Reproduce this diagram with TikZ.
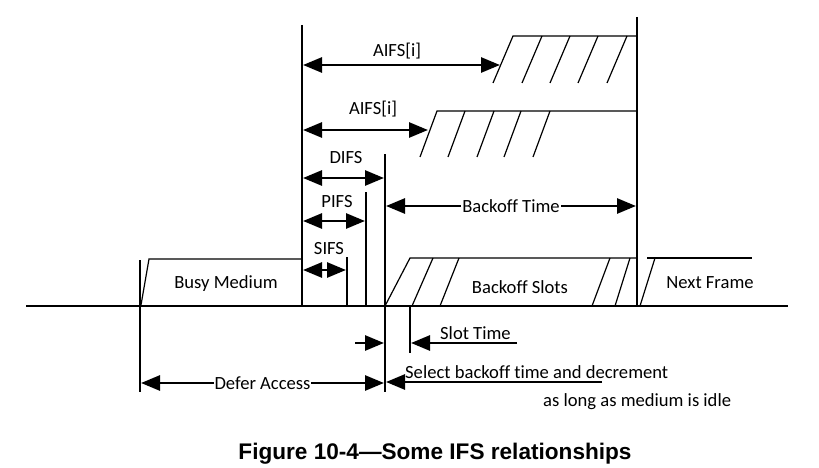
\documentclass[tikz,border=0pt]{standalone}
\usepackage{fontspec}
\setmainfont{Carlito}[Ligatures=NoCommon]
\newfontfamily\capfont{Liberation Sans}
\usetikzlibrary{arrows.meta}

\begin{document}
\begin{tikzpicture}[x=1pt,y=-1pt,
      vline/.style={line width=2.8pt},
      fine/.style={line width=1.2pt},
      dim/.style={line width=2.7pt,{Triangle[length=19pt,width=15pt]}-{Triangle[length=19pt,width=15pt]}},
      tip/.style={line width=2.7pt,-{Triangle[length=19pt,width=15pt]}},
      lbl/.style={font=\fontsize{18.6}{20}\selectfont,inner sep=0pt},
      cut/.style={lbl,fill=white,inner sep=1pt}]
   \useasboundingbox (0,0) rectangle (819,468);

   % medium line and time marks
   \coordinate (ml) at (26,306);
   \coordinate (mr) at (788,306);
   \coordinate (busy top) at (140,260);
   \coordinate (busy bot) at (140,392);
   \coordinate (idle top) at (302,25);
   \coordinate (idle bot) at (302,306);
   \coordinate (end top) at (637,17);
   \coordinate (end bot) at (637,306);
   \coordinate (sifs top) at (347,257);
   \coordinate (sifs bot) at (347,306);
   \coordinate (pifs top) at (366,192);
   \coordinate (pifs bot) at (366,306);
   \coordinate (difs top) at (385,154);
   \coordinate (difs bot) at (385,392);
   \coordinate (slot top) at (410,306);
   \coordinate (slot bot) at (410,353);

   % arrow ends
   \coordinate (aifs1 l) at (303,65);
   \coordinate (aifs1 r) at (500,65);
   \coordinate (aifs2 l) at (303,130);
   \coordinate (aifs2 r) at (428,130);
   \coordinate (difs l) at (303,178);
   \coordinate (difs r) at (384,178);
   \coordinate (pifs l) at (303,221);
   \coordinate (pifs r) at (365,221);
   \coordinate (sifs l) at (303,270);
   \coordinate (sifs r) at (346,270);
   \coordinate (bt l) at (386,206);
   \coordinate (bt r) at (636,206);
   \coordinate (defer l) at (141,383);
   \coordinate (defer r) at (384,383);
   \coordinate (st tail) at (517,343);
   \coordinate (st tip) at (411,343);
   \coordinate (in tail) at (355,343);
   \coordinate (in tip) at (384,343);
   \coordinate (sel tail) at (602,382);
   \coordinate (sel tip) at (386,382);

   % frames
   \draw[fine] (141,305) -- (149,259) -- (302,259);
   \draw[fine] (493,83) -- (513,36) -- (637,36);
   \foreach \x in {522,550,578,607}
      \draw[fine] (\x,83) -- (\x+20,36);
   \draw[fine] (420,157) -- (437,111) -- (637,111);
   \foreach \x in {448,477,504,533}
      \draw[fine] (\x,157) -- (\x+17,111);
   \draw[fine] (385,306) -- (410,258) -- (637,258);
   \foreach \b/\t in {412/433,440/459,592/610,615/630}
      \draw[fine] (\b,306) -- (\t,258);
   \draw[fine] (640,306) -- (655,258);
   \draw[vline] (647,258) -- (752,258);

   \path[vline]
      (ml) edge (mr)
      (busy top) edge (busy bot)
      (idle top) edge (idle bot)
      (end top) edge (end bot)
      (sifs top) edge (sifs bot)
      (pifs top) edge (pifs bot)
      (difs top) edge (difs bot)
      (slot top) edge (slot bot);

   \path[dim]
      (aifs1 l) edge (aifs1 r)
      (aifs2 l) edge (aifs2 r)
      (difs l) edge (difs r)
      (pifs l) edge (pifs r)
      (sifs l) edge (sifs r)
      (bt l) edge node[cut] (bt) {Backoff Time} (bt r)
      (defer l) edge node[cut] (defer) {Defer Access} (defer r);
   \path[tip]
      (st tail) edge (st tip)
      (in tail) edge (in tip)
      (sel tail) edge (sel tip);

   \node[lbl,anchor=base] (aifs1) at (397,57) {AIFS[i]};
   \node[lbl,anchor=base] (aifs2) at (373,115) {AIFS[i]};
   \node[lbl,anchor=base] (difs) at (346,163) {DIFS};
   \node[lbl,anchor=base] (pifs) at (337,207) {PIFS};
   \node[lbl,anchor=base] (sifs) at (329,254) {SIFS};
   \node[lbl,anchor=base] (busy) at (226,288) {Busy Medium};
   \node[lbl,anchor=base] (slots) at (520,293) {Backoff Slots};
   \node[lbl,anchor=base] (next) at (710,288) {Next Frame};
   \node[lbl,anchor=base west] (slot) at (440,339) {Slot Time};
   \node[lbl,anchor=base west] (select) at (405,378) {Select backoff time and decrement};
   \node[lbl,anchor=base west] (idle) at (543,406) {as long as medium is idle};
   \node[font=\capfont\bfseries\fontsize{22.6}{24}\selectfont,inner sep=0pt,anchor=base] (caption)
      at (435,459) {Figure 10-4—Some IFS relationships};
\end{tikzpicture}
\end{document}
